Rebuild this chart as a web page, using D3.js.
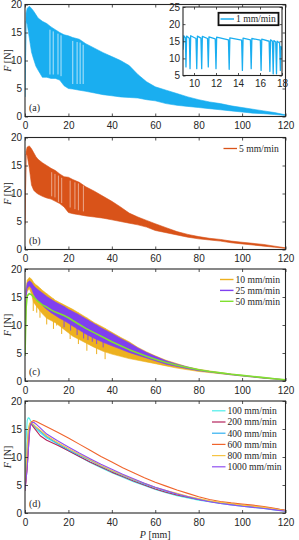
<!DOCTYPE html>
<html>
<head>
<meta charset="utf-8">
<script src="https://cdn.jsdelivr.net/npm/d3@7"></script>
<style>
  body { margin: 0; background: #fff; }
  svg { display: block; }
  .tick text { font-family: 'Liberation Sans', Arial, sans-serif; font-size: 10px; fill: #262626; }
  .tick line { stroke: #262626; stroke-width: 0.8; }
  .serif { font-family: 'Liberation Serif', 'Times New Roman', serif; fill: #262626; }
</style>
</head>
<body>
<svg id="chart" width="299" height="540"></svg>
<script>
// ── Data ───────────────────────────────────────────────────
// shared P grid [mm] for the stick-slip envelopes of panels a–c
const P_GRID = [0, 0.5, 1, 2, 3, 4, 5, 6, 8, 10, 12, 14, 16, 18, 20, 22, 25, 28, 32, 36,
                40, 44, 48, 52, 56, 60, 65, 70, 75, 80, 85, 90, 95, 100, 105, 110, 115, 120];

// (a) 1 mm/min — upper / lower envelope of the oscillating force [N]
const a1Upper = [3.5, 18.5, 19.3, 19.7, 19.3, 18.8, 18.2, 17.6, 17.0, 16.6, 16.0, 15.5, 15.0, 14.6, 14.4, 14.1, 13.8, 13.0, 12.2, 11.4,
                 10.7, 10.0, 9.1, 7.5, 6.2, 5.3, 4.7, 4.1, 3.5, 3.0, 2.6, 2.3, 1.9, 1.6, 1.3, 1.0, 0.7, 0.3];
const a1Lower = [3.5, 17.0, 16.5, 14.0, 11.5, 10.2, 9.0, 8.3, 7.0, 7.0, 6.8, 6.8, 6.5, 5.5, 5.0, 4.9, 4.7, 4.5, 4.2, 3.9,
                 3.7, 3.5, 3.4, 3.3, 3.0, 2.8, 2.3, 2.0, 1.8, 1.6, 1.4, 1.2, 1.0, 0.8, 0.6, 0.5, 0.35, 0.2];
// sparse regions inside the band: [P, top F, bottom F]
const a1Gaps = [[11.5, 15.5, 7.5], [13.0, 15.2, 7.5], [15.2, 14.8, 7.5], [16.6, 14.5, 7.2],
                [22.0, 13.5, 5.8], [24.0, 13.3, 5.8], [25.4, 13.2, 5.8], [26.8, 12.8, 5.8]];

// (a) inset: 1 mm/min zoomed on P = 9–18 mm
const insetP = [9.0, 9.08, 9.22, 9.27, 9.33, 9.58, 9.64, 9.7, 10.18, 10.25, 10.31, 10.63, 10.7, 10.76,
                11.23, 11.3, 11.36, 11.93, 12.0, 12.06, 13.13, 13.2, 13.26, 14.33, 14.4, 14.46,
                15.13, 15.2, 15.26, 16.03, 16.1, 16.16, 16.83, 16.9, 16.96, 17.13, 17.2, 17.26,
                17.43, 17.5, 17.56, 17.78, 17.85, 17.91, 18.0];
const insetF = [12.5, 16.6, 16.0, 7.5, 16.5, 15.9, 7.0, 16.6, 15.8, 7.0, 16.5, 15.9, 7.0, 16.4,
                15.8, 7.5, 16.3, 15.7, 7.0, 16.2, 15.4, 6.8, 16.0, 15.3, 6.5, 15.9,
                15.4, 7.0, 15.8, 15.3, 6.5, 15.6, 15.0, 6.2, 15.4, 15.0, 5.5, 15.2,
                14.8, 5.5, 15.0, 14.5, 6.5, 13.5, 12.5];

// (b) 5 mm/min
const b5Upper = [4.5, 17.5, 18.3, 18.5, 18.0, 17.3, 16.6, 16.1, 15.5, 15.0, 14.5, 14.1, 13.5, 13.0, 12.9, 12.5, 12.0, 11.2, 10.4, 9.5,
                 8.6, 7.6, 6.5, 5.8, 5.2, 4.6, 3.9, 3.2, 2.7, 2.3, 2.0, 1.8, 1.5, 1.3, 1.1, 0.9, 0.6, 0.3];
const b5Lower = [4.5, 17.0, 16.8, 14.5, 11.5, 10.6, 10.2, 9.9, 9.5, 9.2, 9.0, 8.6, 8.2, 7.6, 6.6, 6.4, 6.2, 6.0, 5.8, 5.6,
                 5.3, 5.0, 4.7, 4.4, 4.0, 3.4, 3.0, 2.6, 2.2, 1.9, 1.7, 1.5, 1.2, 1.0, 0.8, 0.6, 0.4, 0.2];
const b5Gaps = [[12.3, 13.8, 9.5], [13.8, 13.5, 9.3], [15.4, 13.2, 8.5], [16.9, 12.8, 8.3],
                [20.8, 12.3, 7.5], [23.0, 12.0, 7.2], [24.6, 11.8, 7.0], [26.9, 11.4, 6.8]];

// (c) 10 / 25 / 50 mm/min
const c10Upper = [4.5, 16.5, 18.0, 18.5, 18.2, 17.6, 17.2, 16.9, 16.2, 15.6, 15.0, 14.4, 14.0, 13.6, 13.2, 12.8, 12.1, 11.4, 10.4, 9.6,
                  8.7, 7.8, 7.0, 6.0, 5.2, 4.5, 3.7, 3.1, 2.5, 2.1, 1.8, 1.5, 1.25, 1.0, 0.8, 0.6, 0.4, 0.2];
const c10Lower = [4.5, 15.0, 16.0, 16.5, 15.5, 14.0, 13.5, 13.0, 12.0, 11.2, 10.8, 10.4, 9.8, 9.2, 8.6, 8.0, 7.4, 6.8, 6.0, 5.3,
                  4.8, 4.4, 4.0, 3.7, 3.4, 3.1, 2.7, 2.3, 2.0, 1.7, 1.5, 1.3, 1.1, 0.9, 0.7, 0.5, 0.35, 0.2];
const c10Drops = [[3.8, 17.5, 12.5], [5.4, 17.0, 12.2], [6.9, 16.5, 11.3], [10.0, 15.6, 10.1], [13.1, 14.7, 9.3],
                  [14.6, 14.3, 9.9], [16.9, 13.8, 8.4], [20.8, 13.0, 7.5], [24.6, 12.2, 6.6], [28.5, 11.3, 5.4],
                  [33.0, 10.2, 4.8], [36.9, 9.4, 3.9]];
const c25Upper = [4.5, 16.0, 17.5, 17.9, 17.6, 17.0, 16.6, 16.3, 15.7, 15.1, 14.6, 14.1, 13.7, 13.3, 12.8, 12.4, 11.8, 11.1, 10.2, 9.3,
                  8.5, 7.6, 6.8, 5.9, 5.1, 4.4, 3.6, 3.0, 2.5, 2.0, 1.7, 1.45, 1.2, 1.0, 0.8, 0.6, 0.4, 0.2];
const c25Lower = [4.5, 15.0, 16.5, 17.0, 16.5, 15.5, 14.8, 14.3, 13.5, 12.8, 12.2, 11.7, 11.2, 10.8, 10.3, 9.8, 9.1, 8.4, 7.6, 6.9,
                  6.3, 5.7, 5.1, 4.6, 4.1, 3.6, 3.0, 2.6, 2.2, 1.85, 1.6, 1.35, 1.1, 0.9, 0.7, 0.5, 0.35, 0.2];
const c25Drops = [[18, 13.3, 9.6], [21, 12.6, 9.0], [24, 12.0, 8.2], [27, 11.3, 7.6],
                  [29, 10.9, 7.3], [31, 10.4, 7.0], [33, 10.0, 6.6], [36, 9.3, 6.0]];
const c50 = [4.5, 13.0, 15.2, 15.6, 15.4, 15.0, 14.6, 14.2, 13.6, 13.2, 12.7, 12.3, 12.0, 11.7, 11.3, 10.8, 10.1, 9.4, 8.6, 7.8,
             7.0, 6.3, 5.6, 5.0, 4.4, 3.9, 3.3, 2.8, 2.4, 2.0, 1.7, 1.45, 1.2, 1.0, 0.8, 0.6, 0.4, 0.2];

// (d) 100–1000 mm/min, smooth curves
const D_GRID = [0, 0.5, 1, 1.5, 2, 2.5, 3, 4, 5, 7, 10, 15, 20, 25, 30, 35, 40, 45, 50, 55,
                60, 65, 70, 75, 80, 85, 90, 95, 100, 105, 110, 115, 120];
const d100  = [4, 13, 16.5, 17.0, 16.9, 16.5, 16.1, 15.6, 15.1, 14.3, 13.4, 12.3, 11.1, 10.1, 9.0, 8.1, 7.2, 6.4, 5.6, 4.9,
               4.2, 3.6, 3.1, 2.7, 2.3, 2.0, 1.7, 1.45, 1.2, 1.0, 0.8, 0.55, 0.3];
const d200  = [4.5, 6, 8, 11, 14.5, 16.0, 15.8, 15.3, 14.8, 13.8, 13.0, 12.1, 11.1, 10.1, 9.1, 8.2, 7.3, 6.5, 5.7, 5.0,
               4.3, 3.7, 3.2, 2.8, 2.4, 2.1, 1.8, 1.6, 1.4, 1.2, 1.0, 0.75, 0.5];
const d400  = [4, 8, 12, 14.5, 15.6, 16.1, 16.0, 15.7, 15.3, 14.6, 13.6, 12.4, 11.3, 10.3, 9.4, 8.4, 7.5, 6.7, 5.9, 5.2,
               4.5, 3.9, 3.4, 2.9, 2.5, 2.1, 1.8, 1.55, 1.3, 1.1, 0.9, 0.65, 0.4];
const d600  = [4, 6, 9, 12, 14.5, 15.8, 16.3, 16.5, 16.4, 16.0, 15.4, 14.4, 13.4, 12.3, 11.2, 10.1, 9.1, 8.1, 7.2, 6.3,
               5.5, 4.8, 4.1, 3.5, 2.9, 2.4, 2.05, 1.8, 1.6, 1.4, 1.15, 0.85, 0.45];
const d800  = [4, 8, 12, 14.8, 15.8, 16.2, 16.1, 15.8, 15.4, 14.8, 13.8, 12.6, 11.5, 10.5, 9.5, 8.5, 7.6, 6.8, 6.0, 5.3,
               4.6, 4.0, 3.5, 3.0, 2.6, 2.2, 1.9, 1.65, 1.4, 1.2, 1.0, 0.7, 0.4];
const d1000 = [4, 6, 8, 11, 14, 15.5, 16.1, 16.2, 15.9, 15.2, 14.1, 12.9, 11.8, 10.7, 9.7, 8.7, 7.8, 6.9, 6.1, 5.3,
               4.6, 4.0, 3.4, 2.9, 2.4, 2.0, 1.7, 1.45, 1.2, 1.0, 0.8, 0.55, 0.3];

// ticks
const X_TICKS = [0, 20, 40, 60, 80, 100, 120];
const Y_TICKS = [0, 5, 10, 15, 20];
const INSET_X_TICKS = [10, 12, 14, 16, 18];
const INSET_Y_TICKS = [5, 10, 15, 20, 25];

// ── Layout ────────────────────────────────────────────────
const svg = d3.select('#chart');
const LEFT = 25, RIGHT = 285.5, PH = 112;
const AXIS_COL = '#262626';

const COLORS = {
  a1: '#1aaef0', b5: '#d95319',
  c10: '#edb120', c25: '#8040f0', c50: '#80e030',
  d100: '#4deeea', d200: '#b5245d', d400: '#30b0f0',
  d600: '#f0642c', d800: '#f6c443', d1000: '#9050f0'
};

let clipId = 0;

// ── Panel frame with MATLAB-style inward ticks ───────────
function makePanel(top, h, xDomain, yDomain, xRange, opts = {}) {
  const x = d3.scaleLinear().domain(xDomain).range(xRange);
  const y = d3.scaleLinear().domain(yDomain).range([top + h, top]);
  const g = svg.append('g');

  g.append('rect')
    .attr('x', xRange[0]).attr('y', top)
    .attr('width', xRange[1] - xRange[0]).attr('height', h)
    .attr('fill', '#fff');

  const id = 'clip' + (clipId++);
  svg.append('clipPath').attr('id', id)
    .append('rect')
    .attr('x', xRange[0]).attr('y', top)
    .attr('width', xRange[1] - xRange[0]).attr('height', h);
  const plot = g.append('g').attr('clip-path', `url(#${id})`);

  const axes = g.append('g');
  const tl = opts.tick || 3;

  axes.append('g').attr('transform', `translate(0,${top + h})`)
    .call(d3.axisBottom(x).tickValues(opts.xTicks).tickSize(-tl).tickPadding(opts.xPad || 5.5))
    .call(s => s.select('.domain').remove());
  axes.append('g').attr('transform', `translate(0,${top})`)
    .call(d3.axisTop(x).tickValues(opts.xTicks).tickSize(-tl).tickFormat(''))
    .call(s => s.select('.domain').remove());
  axes.append('g').attr('transform', `translate(${xRange[0]},0)`)
    .call(d3.axisLeft(y).tickValues(opts.yTicks).tickSize(-tl).tickPadding(3))
    .call(s => s.select('.domain').remove());
  axes.append('g').attr('transform', `translate(${xRange[1]},0)`)
    .call(d3.axisRight(y).tickValues(opts.yTicks).tickSize(-tl).tickFormat(''))
    .call(s => s.select('.domain').remove());

  const frame = g.append('rect')
    .attr('x', xRange[0]).attr('y', top)
    .attr('width', xRange[1] - xRange[0]).attr('height', h)
    .attr('fill', 'none').attr('stroke', AXIS_COL).attr('stroke-width', opts.frameW || 1.1);

  return { x, y, g, plot, axes, frame };
}

function drawBand(p, grid, lo, hi, color) {
  const area = d3.area()
    .x(i => p.x(grid[i]))
    .y0(i => p.y(lo[i]))
    .y1(i => p.y(hi[i]));
  p.plot.append('path')
    .attr('d', area(d3.range(grid.length)))
    .attr('fill', color)
    .attr('stroke', color).attr('stroke-width', 0.6);
}

function drawSticks(p, sticks, color, width, opacity) {
  p.plot.selectAll(null).data(sticks).enter().append('line')
    .attr('x1', d => p.x(d[0])).attr('x2', d => p.x(d[0]))
    .attr('y1', d => p.y(d[1])).attr('y2', d => p.y(d[2]))
    .attr('stroke', color).attr('stroke-width', width).attr('opacity', opacity);
}

function drawLine(p, grid, vals, color, width) {
  const line = d3.line().x(i => p.x(grid[i])).y(i => p.y(vals[i]));
  p.plot.append('path')
    .attr('d', line(d3.range(grid.length)))
    .attr('fill', 'none').attr('stroke', color)
    .attr('stroke-width', width).attr('stroke-linejoin', 'round');
}

function yLabel(top) {
  const t = svg.append('text').attr('class', 'serif')
    .attr('transform', `translate(11,${top + PH / 2}) rotate(-90)`)
    .attr('text-anchor', 'middle').attr('font-size', 10);
  t.append('tspan').attr('font-style', 'italic').text('F');
  t.append('tspan').text(' [N]');
}

function panelTag(p, top, txt) {
  svg.append('text').attr('class', 'serif')
    .attr('x', LEFT + 4).attr('y', top + PH - 6)
    .attr('font-size', 10).text(txt);
}

function legend(x0, y0, dy, items, lineW) {
  items.forEach((it, k) => {
    const yy = y0 + k * dy;
    svg.append('line')
      .attr('x1', x0).attr('x2', x0 + 13.5).attr('y1', yy).attr('y2', yy)
      .attr('stroke', it.color).attr('stroke-width', lineW);
    svg.append('text').attr('class', 'serif')
      .attr('x', x0 + 15.5).attr('y', yy + 3.3)
      .attr('font-size', 9.6).text(it.label);
  });
}

const axOpts = { xTicks: X_TICKS, yTicks: Y_TICKS };

// ── (a) ───────────────────────────────────────────────────
const TOPS = [4.5, 137.5, 269, 401];

const pa = makePanel(TOPS[0], PH, [0, 120], [0, 20], [LEFT, RIGHT], axOpts);
drawBand(pa, P_GRID, a1Lower, a1Upper, COLORS.a1);
drawSticks(pa, a1Gaps, '#fff', 0.9, 0.75);
yLabel(TOPS[0]);
panelTag(pa, TOPS[0], '(a)');

// inset
const pi = makePanel(7, 68.5, [9, 18], [5, 25], [183, 282],
  { xTicks: INSET_X_TICKS, yTicks: INSET_Y_TICKS, tick: 2.5, xPad: 4 });
drawLine(pi, insetP, insetF, COLORS.a1, 1.3);
pi.axes.raise(); pi.frame.raise();
svg.append('rect')
  .attr('x', 218.5).attr('y', 12.8).attr('width', 60).attr('height', 12.4)
  .attr('fill', '#fff').attr('stroke', '#111').attr('stroke-width', 1.8);
legend(220.5, 19, 0, [{ label: '1 mm/min', color: COLORS.a1 }], 1.5);

// ── (b) ───────────────────────────────────────────────────
const pb = makePanel(TOPS[1], PH, [0, 120], [0, 20], [LEFT, RIGHT], axOpts);
drawBand(pb, P_GRID, b5Lower, b5Upper, COLORS.b5);
drawSticks(pb, b5Gaps, '#fff', 0.9, 0.55);
yLabel(TOPS[1]);
panelTag(pb, TOPS[1], '(b)');
legend(223.5, 148.5, 0, [{ label: '5 mm/min', color: COLORS.b5 }], 1.3);

// ── (c) ───────────────────────────────────────────────────
const pc = makePanel(TOPS[2], PH, [0, 120], [0, 20], [LEFT, RIGHT], axOpts);
drawBand(pc, P_GRID, c10Lower, c10Upper, COLORS.c10);
drawSticks(pc, c10Drops, COLORS.c10, 1, 1);
drawBand(pc, P_GRID, c25Lower, c25Upper, COLORS.c25);
drawSticks(pc, c25Drops, COLORS.c25, 1, 0.9);
drawLine(pc, P_GRID, c50, COLORS.c50, 1.6);
yLabel(TOPS[2]);
panelTag(pc, TOPS[2], '(c)');
legend(220, 279.5, 10.9, [
  { label: '10 mm/min', color: COLORS.c10 },
  { label: '25 mm/min', color: COLORS.c25 },
  { label: '50 mm/min', color: COLORS.c50 }
], 1.4);

// ── (d) ───────────────────────────────────────────────────
const pd = makePanel(TOPS[3], PH, [0, 120], [0, 20], [LEFT, RIGHT], axOpts);
const dSeries = [
  { vals: d100,  color: COLORS.d100,  label: '100 mm/min' },
  { vals: d200,  color: COLORS.d200,  label: '200 mm/min' },
  { vals: d400,  color: COLORS.d400,  label: '400 mm/min' },
  { vals: d600,  color: COLORS.d600,  label: '600 mm/min' },
  { vals: d800,  color: COLORS.d800,  label: '800 mm/min' },
  { vals: d1000, color: COLORS.d1000, label: '1000 mm/min' }
];
dSeries.forEach(s => drawLine(pd, D_GRID, s.vals, s.color, 1.1));
yLabel(TOPS[3]);
panelTag(pd, TOPS[3], '(d)');
legend(212, 410.8, 11.2, dSeries, 1.2);

const xl = svg.append('text').attr('class', 'serif')
  .attr('x', (LEFT + RIGHT) / 2).attr('y', 537.5)
  .attr('text-anchor', 'middle').attr('font-size', 10);
xl.append('tspan').attr('font-style', 'italic').text('P');
xl.append('tspan').text(' [mm]');
</script>
</body>
</html>
